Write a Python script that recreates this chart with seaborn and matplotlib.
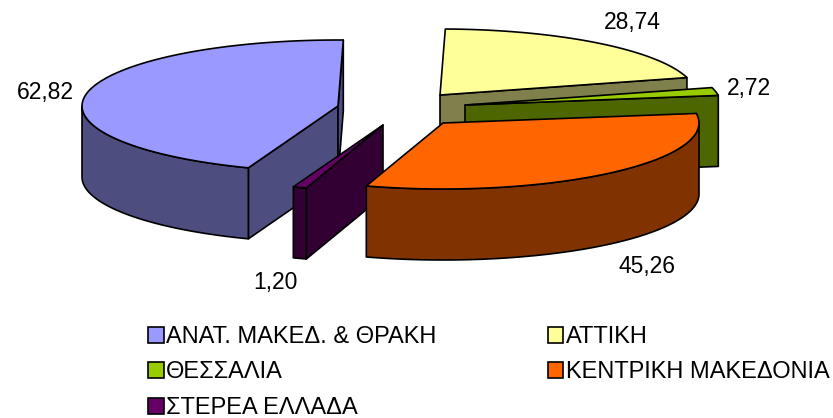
import matplotlib
matplotlib.use("Agg")
import matplotlib.pyplot as plt
from matplotlib.patches import Patch
import numpy as np
import seaborn as sns

regions = ["ΑΝΑΤ. ΜΑΚΕΔ. & ΘΡΑΚΗ", "ΑΤΤΙΚΗ", "ΘΕΣΣΑΛΙΑ", "ΚΕΝΤΡΙΚΗ ΜΑΚΕΔΟΝΙΑ", "ΣΤΕΡΕΑ ΕΛΛΑΔΑ"]
values = [62.82, 28.74, 2.72, 45.26, 1.20]

colors = ["#9999FF", "#FFFF99", "#99CC00", "#FF6600", "#660066"]
centers = [(338, 106), (440, 95), (465, 105), (443, 123), (383, 125)]
label_pos = [(45, 92), (632, 23), (749, 88), (647, 266), (275, 282)]
draw_order = [1, 2, 0, 4, 3]

START_ANGLE = 249.5
RX, RY, DEPTH = 256, 66, 71

sns.set_theme(style="white")
plt.rcParams["font.family"] = ["Liberation Sans", "DejaVu Sans"]

palette = sns.color_palette(colors)
dark = [tuple(c * 0.5 for c in col) for col in palette]


def rim(cx, cy, a1, a2, n=80):
    t = np.radians(np.linspace(a1, a2, n))
    return cx + RX * np.cos(t), cy - RY * np.sin(t)


def draw_slice(ax, i, a1, a2):
    # clockwise slice from a1 down to a2, side faces first, top last
    cx, cy = centers[i]
    kw = dict(edgecolor="black", linewidth=1.2, joinstyle="round")
    for a, visible in ((a1, np.cos(np.radians(a1)) < 0), (a2, np.cos(np.radians(a2)) > 0)):
        if visible:
            x, y = rim(cx, cy, a, a, 1)
            ax.fill([cx, x[0], x[0], cx], [cy, y[0], y[0] + DEPTH, cy + DEPTH], facecolor=dark[i], **kw)
    # outer wall, only the part of the arc that faces the viewer
    for k in range(-1, 1):
        lo, hi = max(a2, 180 + 360 * k), min(a1, 360 + 360 * k)
        if lo < hi:
            x, y = rim(cx, cy, hi, lo)
            ax.fill(np.r_[x, x[::-1]], np.r_[y, y[::-1] + DEPTH], facecolor=dark[i], **kw)
    x, y = rim(cx, cy, a1, a2)
    ax.fill(np.r_[cx, x], np.r_[cy, y], facecolor=palette[i], **kw)


fig = plt.figure(figsize=(8.33, 4.18), dpi=100)
ax = fig.add_axes([0, 0, 1, 1])
ax.set_xlim(0, 833)
ax.set_ylim(418, 0)
ax.axis("off")

sweeps = np.array(values) / sum(values) * 360
ends = START_ANGLE - np.cumsum(sweeps)
starts = ends + sweeps
for i in draw_order:
    draw_slice(ax, i, starts[i], ends[i])

for v, (x, y) in zip(values, label_pos):
    ax.text(x, y, f"{v:.2f}".replace(".", ","), ha="center", va="center", fontsize=16.5, color="black")

# matplotlib fills legend columns first, the chart reads row by row
handles = [Patch(facecolor=palette[i], edgecolor="black", linewidth=1.2, label=regions[i]) for i in [0, 2, 4, 1, 3]]
ax.legend(
    handles=handles, ncol=2, loc="upper left", bbox_to_anchor=(148, 326), bbox_transform=ax.transData,
    frameon=False, fontsize=17, labelcolor="black", handlelength=0.66, handleheight=0.66, handletextpad=0.1,
    labelspacing=0.57, columnspacing=4.72, borderpad=0, borderaxespad=0,
)

fig.savefig("out.png", dpi=100)
